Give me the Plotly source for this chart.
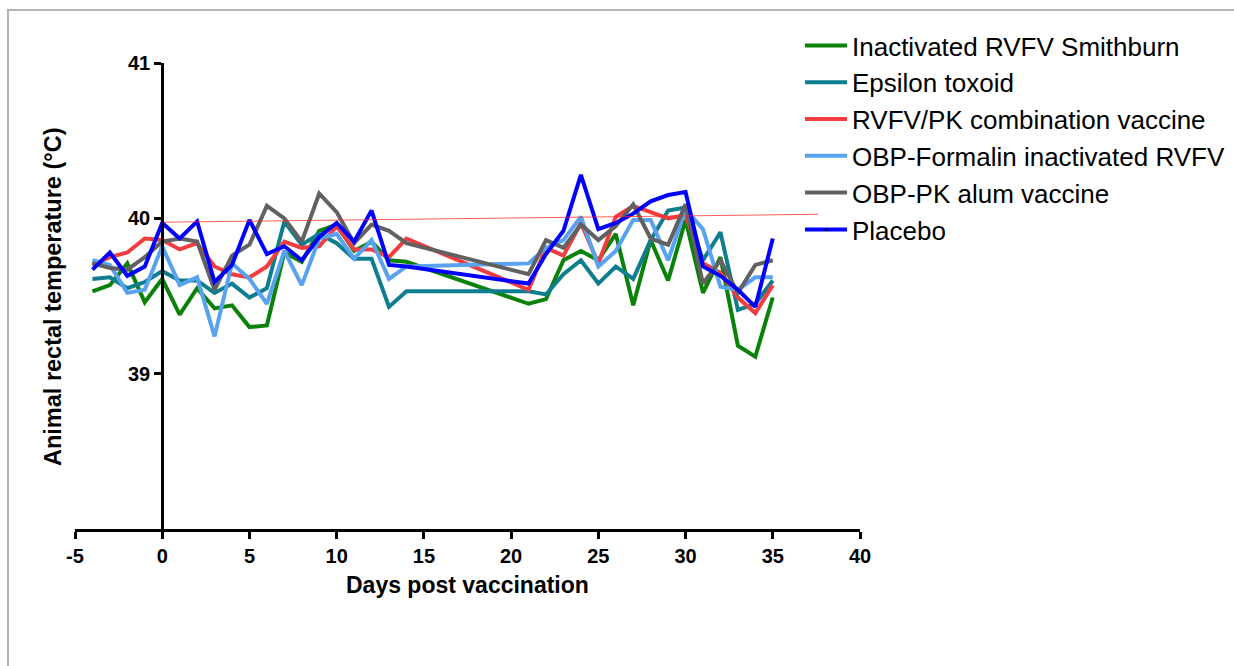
import plotly.graph_objects as go

# Sampling days (no readings between day 14 and day 21)
days = [-4, -3, -2, -1, 0, 1, 2, 3, 4, 5, 6, 7, 8, 9, 10, 11, 12, 13, 14,
        21, 22, 23, 24, 25, 26, 27, 28, 29, 30, 31, 32, 33, 34, 35]

# Mean rectal temperature (°C) per group
smithburn = [39.53, 39.57, 39.71, 39.46, 39.61, 39.38, 39.55, 39.42, 39.44, 39.30,
             39.31, 39.78, 39.72, 39.92, 39.96, 39.79, 39.85, 39.73, 39.72,
             39.45, 39.48, 39.73, 39.79, 39.73, 39.90, 39.44, 39.86, 39.60, 39.99,
             39.52, 39.75, 39.18, 39.11, 39.49]
epsilon = [39.61, 39.62, 39.55, 39.59, 39.66, 39.60, 39.60, 39.52, 39.58, 39.49,
           39.55, 39.98, 39.83, 39.90, 39.84, 39.74, 39.74, 39.43, 39.53,
           39.53, 39.51, 39.64, 39.73, 39.58, 39.69, 39.61, 39.86, 40.05, 40.07,
           39.73, 39.91, 39.41, 39.45, 39.60]
combination = [39.70, 39.75, 39.78, 39.87, 39.86, 39.80, 39.84, 39.69, 39.64, 39.62,
               39.69, 39.85, 39.81, 39.82, 39.95, 39.80, 39.80, 39.75, 39.87,
               39.54, 39.81, 39.76, 39.97, 39.71, 40.01, 40.08, 40.04, 40.00, 40.02,
               39.71, 39.65, 39.49, 39.39, 39.57]
obp_formalin = [39.73, 39.70, 39.52, 39.54, 39.82, 39.57, 39.62, 39.24, 39.71, 39.61,
                39.45, 39.79, 39.57, 39.87, 39.90, 39.74, 39.86, 39.61, 39.69,
                39.71, 39.81, 39.86, 40.01, 39.69, 39.79, 39.99, 39.99, 39.73, 40.06,
                39.93, 39.56, 39.54, 39.62, 39.62]
obp_pk_alum = [39.71, 39.68, 39.67, 39.75, 39.85, 39.87, 39.85, 39.54, 39.76, 39.83,
               40.08, 40.00, 39.85, 40.16, 40.04, 39.84, 39.96, 39.92, 39.84,
               39.64, 39.86, 39.81, 39.96, 39.86, 39.95, 40.09, 39.87, 39.83, 40.09,
               39.58, 39.73, 39.52, 39.70, 39.73]
placebo = [39.67, 39.78, 39.63, 39.69, 39.97, 39.87, 39.98, 39.59, 39.70, 39.99,
           39.77, 39.82, 39.73, 39.88, 39.97, 39.85, 40.05, 39.70, 39.69,
           39.58, 39.77, 39.92, 40.28, 39.93, 39.97, 40.03, 40.11, 40.15, 40.17,
           39.69, 39.63, 39.54, 39.43, 39.87]

# Thin reference line across the study period
ref_x = [0, 37.6]
ref_y = [39.975, 40.026]

# Axis ticks
x_ticks = list(range(-5, 41, 5))
x_tick_text = [str(v) for v in x_ticks]
y_ticks = [39, 40, 41]

series = [
    ("Inactivated RVFV Smithburn", smithburn, "#0a820a"),
    ("Epsilon toxoid", epsilon, "#0e7d8e"),
    ("RVFV/PK combination vaccine", combination, "#f23d40"),
    ("OBP-Formalin inactivated RVFV", obp_formalin, "#58a2f0"),
    ("OBP-PK alum vaccine", obp_pk_alum, "#616161"),
    ("Placebo", placebo, "#0000ff"),
]

fig = go.Figure()
for name, vals, color in series:
    if name == "Placebo":
        fig.add_trace(go.Scatter(
            x=days, y=vals, name=name, mode="lines+markers",
            line=dict(color=color, width=4),
            marker=dict(size=[0] * len(days), color="black",
                        line=dict(width=1.5, color="black")),
        ))
    else:
        fig.add_trace(go.Scatter(
            x=days, y=vals, name=name, mode="lines",
            line=dict(color=color, width=4),
        ))

fig.add_trace(go.Scatter(
    x=ref_x, y=ref_y, mode="lines", showlegend=False,
    line=dict(color="rgba(255,40,40,0.75)", width=1),
))

L, R, T, B = 75, 374, 63, 137
W, H = 1234, 666
pw, ph = W - L - R, H - T - B


def px(x):
    return (x - L) / pw


def py(y):
    return (H - B - y) / ph


font_family = "Liberation Sans, Arial, sans-serif"

fig.update_layout(
    width=W, height=H,
    margin=dict(l=L, r=R, t=T, b=B, pad=0, autoexpand=False),
    paper_bgcolor="white", plot_bgcolor="white",
    font=dict(family=font_family, color="black"),
    xaxis=dict(
        range=[-5, 40], tickmode="array", tickvals=x_ticks, ticktext=x_tick_text,
        showgrid=False, zeroline=False,
        showline=True, linewidth=3, linecolor="black",
        ticks="outside", ticklen=7, tickwidth=3, tickcolor="black",
        tickfont=dict(size=20, weight="bold", family=font_family),
    ),
    yaxis=dict(
        range=[38, 41], tickmode="array", tickvals=y_ticks,
        anchor="free", position=5 / 45,
        showgrid=False, zeroline=False,
        showline=True, linewidth=3, linecolor="black",
        ticks="outside", ticklen=7, tickwidth=3, tickcolor="black",
        tickfont=dict(size=20, weight="bold", family=font_family),
    ),
    legend=dict(
        x=px(800), y=py(22), xanchor="left", yanchor="top",
        font=dict(size=26, family=font_family),
        itemwidth=42, bgcolor="rgba(0,0,0,0)",
    ),
    showlegend=True,
    annotations=[
        dict(text="Days post vaccination", x=0.5, y=py(585), xref="paper", yref="paper",
             xanchor="center", yanchor="middle", showarrow=False,
             font=dict(size=23, weight="bold", family=font_family)),
        dict(text="Animal rectal temperature (°C)", x=px(53), y=py(297),
             xref="paper", yref="paper", textangle=-90,
             xanchor="center", yanchor="middle", showarrow=False,
             font=dict(size=23.5, weight="bold", family=font_family)),
    ],
    shapes=[
        dict(type="rect", xref="paper", yref="paper",
             x0=px(8), x1=px(1260), y0=py(10), y1=py(700),
             line=dict(color="#b3b3b3", width=2), fillcolor="rgba(0,0,0,0)"),
    ],
)

fig.write_html("out.html")
